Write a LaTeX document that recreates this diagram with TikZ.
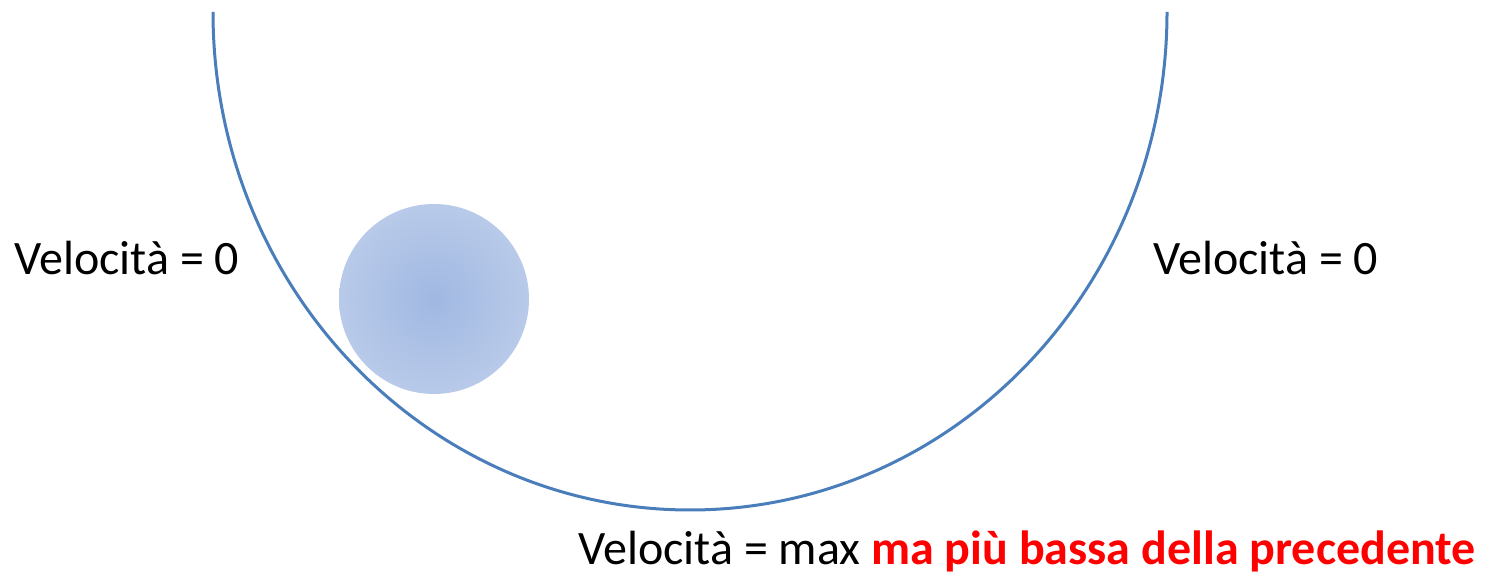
\documentclass[tikz,border=0pt]{standalone}
\usepackage{fontspec}
\setmainfont{Carlito}
\usepackage{xcolor}
\usetikzlibrary{positioning}
\definecolor{track}{HTML}{4A7EBB}
\definecolor{ballin}{HTML}{A0B8E2}
\definecolor{ballout}{HTML}{D0DBF0}
\definecolor{warn}{HTML}{FF0000}
\pgfdeclareradialshading{ballshade}{\pgfpoint{0bp}{0bp}}{%
  color(0bp)=(ballin); color(49bp)=(ballout); color(50bp)=(ballout)}

\begin{document}
\begin{tikzpicture}[
    x=0.5pt, y=0.5pt,
    font=\fontsize{24}{29}\selectfont,
    label/.style={inner sep=0pt, anchor=base west},
    track/.style={draw=track, line width=1.5pt},
  ]
    \useasboundingbox (0,0) rectangle (1492,576);

    % the valley
    \draw[track] (213,564) arc[start angle=180, end angle=360, x radius=477, y radius=498];
    % the ball
    \shade[shading=ballshade] (434,277) circle[radius=95];

    \node[label] (vleft)  at (14,301)   {Velocità = 0};
    \node[label] (vright) at (1153,301) {Velocità = 0};
    \node[label] (vmax)   at (578,11)
       {Velocità = max \textcolor{warn}{\bfseries ma più bassa della precedente}};
  \end{tikzpicture}
\end{document}
